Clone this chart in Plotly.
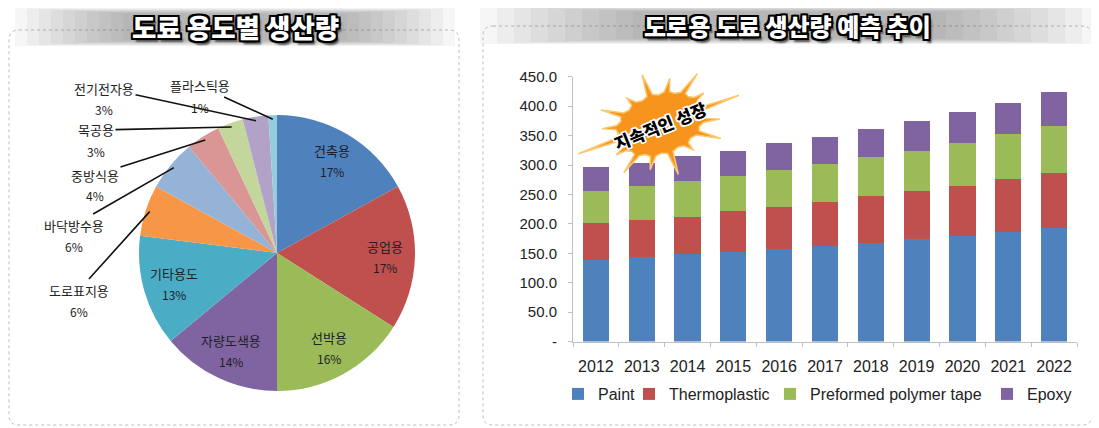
"""
Paint production: share by use (pie) and road-paint forecast (stacked bars)
"""
import numpy as np
import plotly.graph_objects as go

W, H = 1099, 428
PAGE_PAD = 8  # default body margin of the html page
KR = "Noto Sans CJK KR"
EN = "Liberation Sans"

# pie: production share by use (%)
uses = ['건축용', '공업용', '선박용', '자량도색용', '기타용도', '도로표지용',
        '바닥방수용', '중방식용', '목공용', '전기전자용', '플라스틱용']
shares = [17, 17, 16, 14, 13, 6, 6, 4, 3, 3, 1]
pie_colors = ['#4F81BD', '#C0504D', '#9BBB59', '#8064A2', '#4BACC6', '#F79646',
              '#95B3D7', '#D99694', '#C3D69B', '#B3A2C7', '#93CDDD']

# bars: road paint production forecast
years = ['2012', '2013', '2014', '2015', '2016', '2017',
         '2018', '2019', '2020', '2021', '2022']
paint = [139, 143, 149, 153, 158, 162, 168, 174, 179.5, 186, 193]
thermoplastic = [63, 64, 63, 69, 71, 76, 79.5, 82, 85, 90, 93]
preformed = [54, 58, 61.6, 60, 63, 64, 65.5, 68.6, 73.5, 76, 80.6]
epoxy = [40, 39, 42, 42.6, 46, 46, 49, 51, 53, 54, 58]
series_names = ['Paint', 'Thermoplastic', 'Preformed polymer tape', 'Epoxy']
bar_colors = ['#4F81BD', '#C0504D', '#9BBB59', '#8064A2']
y_ticks = [0, 50, 100, 150, 200, 250, 300, 350, 400, 450]


# screen pixel -> paper coordinates
def px(x):
    return (x - PAGE_PAD) / W


def py(y):
    return 1 - (y - PAGE_PAD) / H


def rounded_path(x0, y0, x1, y1, r):
    pts = [('M', x0 + r, y0), ('L', x1 - r, y0), ('Q', x1, y0, x1, y0 + r),
           ('L', x1, y1 - r), ('Q', x1, y1, x1 - r, y1), ('L', x0 + r, y1),
           ('Q', x0, y1, x0, y1 - r), ('L', x0, y0 + r), ('Q', x0, y0, x0 + r, y0)]
    out = []
    for p in pts:
        cmd, coords = p[0], p[1:]
        pairs = [f"{px(coords[i]):.5f},{py(coords[i + 1]):.5f}" for i in range(0, len(coords), 2)]
        out.append(cmd + ' '.join(pairs))
    return ' '.join(out) + ' Z'


def note(text, x, y, **kw):
    d = dict(text=text, x=px(x), y=py(y), xref='paper', yref='paper',
             xanchor='center', yanchor='middle', showarrow=False)
    d.update(kw)
    return d


fig = go.Figure()

# pie
pie_box = (139, 115, 415, 391)
fig.add_trace(go.Pie(
    labels=uses, values=shares, sort=False, direction='clockwise', rotation=0,
    marker=dict(colors=pie_colors, line=dict(width=0)),
    domain=dict(x=[px(pie_box[0]), px(pie_box[2])], y=[py(pie_box[3]), py(pie_box[1])]),
    textposition='none',
    showlegend=False,
))

# stacked bars
legends = ['legend', 'legend2', 'legend3', 'legend4']
for name, vals, color, leg in zip(series_names, [paint, thermoplastic, preformed, epoxy],
                                  bar_colors, legends):
    fig.add_trace(go.Bar(x=years, y=vals, name=name, marker_color=color,
                         marker_line_width=0, legend=leg))

shapes = []
annotations = []

# panels
for box in [(9, 30, 459, 425), (483, 26, 1092, 425)]:
    shapes.append(dict(type='path', xref='paper', yref='paper', path=rounded_path(*box, 10),
                       line=dict(color='#BDBDBD', width=1, dash='dot'), layer='below'))

# title banners (stacked translucent bands -> soft gradient)
for (bx0, bx1, by0, by1, step) in [(15, 455, 8, 46, 24), (480, 1099, 6, 44, 34)]:
    for k in range(10):
        shapes.append(dict(type='rect', xref='paper', yref='paper',
                           x0=px(bx0 + k * step / 2), x1=px(bx1 - k * step / 2),
                           y0=py(by1 - k * 0.6), y1=py(by0 + k * 0.6),
                           fillcolor='rgba(110,110,110,0.06)', line=dict(width=0), layer='below'))

outline = ("2px 2px 0 #000, -2px -2px 0 #000, 2px -2px 0 #000, -2px 2px 0 #000, "
           "0 2px 0 #000, 2px 0 0 #000, 0 -2px 0 #000, -2px 0 0 #000, 3px 4px 2px #555")
for text, tx, ty, fs in [('도료 용도별 생산량', 235, 27, 26.5), ('도로용 도료 생산량 예측 추이', 787, 25, 24)]:
    annotations.append(note(text, tx, ty,
                            font=dict(family=KR, size=fs, weight=900, color='white', shadow=outline)))

# pie labels
cx = (pie_box[0] + pie_box[2]) / 2
cy = (pie_box[1] + pie_box[3]) / 2
R = (pie_box[2] - pie_box[0]) / 2
cum = np.cumsum(shares)
label_pos = {'도로표지용': (79, 290), '바닥방수용': (74, 225), '중방식용': (95, 175),
             '목공용': (96, 130), '전기전자용': (104, 88), '플라스틱용': (200, 86)}
for i in range(len(uses)):
    mid = (cum[i] - shares[i] / 2) / cum[-1] * 2 * np.pi
    if i < 5:
        # inside labels along the slice bisector
        lx = cx + R * 0.78 * np.sin(mid)
        ly = cy - R * 0.78 * np.cos(mid)
        annotations.append(note(uses[i], lx, ly - 10, font=dict(family=KR, size=13, color='#1E1E2A')))
        annotations.append(note(f'{shares[i]}%', lx, ly + 11, font=dict(family=KR, size=12, color='#1E1E2A')))
    else:
        # outside labels with leader lines
        tipx = cx + R * 0.97 * np.sin(mid)
        tipy = cy - R * 0.97 * np.cos(mid)
        lx, ly = label_pos[uses[i]]
        annotations.append(note(uses[i], tipx, tipy, ax=lx - tipx, ay=ly - tipy, showarrow=True,
                                arrowhead=0, arrowwidth=1.6, arrowcolor='#111', standoff=0,
                                font=dict(family=KR, size=13, color='#222')))
        annotations.append(note(f'{shares[i]}%', lx, ly + 21, font=dict(family=KR, size=12, color='#222')))

# starburst callout: thin spikes on a lumpy body
scx, scy = 660, 124
spike = [1.5, 1.12, 1.32, 1.04, 1.45, 1.16, 1.28, 1.0, 1.55, 1.08, 1.28, 1.04, 1.42, 1.16, 1.32, 1.0]
n_spk = len(spike)
rot = np.deg2rad(20)
pts = []
for j in range(n_spk):
    a = 2 * np.pi * j / n_spk
    dstep = 2 * np.pi / n_spk
    for da, rr in [(-0.16, 0.82), (0.0, spike[j]), (0.16, 0.82), (0.5, 0.77)]:
        ang = a + da * dstep
        ex, ey = 56 * rr * np.cos(ang), 37 * rr * np.sin(ang)
        xr = ex * np.cos(rot) + ey * np.sin(rot)
        yr = -ex * np.sin(rot) + ey * np.cos(rot)
        pts.append((px(scx + xr), py(scy + yr)))
star_path = 'M' + ' L'.join(f'{a:.5f},{b:.5f}' for a, b in pts) + ' Z'
shapes.append(dict(type='path', xref='paper', yref='paper', path=star_path,
                   fillcolor='#F7941D', line=dict(color='#FBC86E', width=1.5), layer='above'))
white_outline = ("1.5px 1.5px 0 #fff, -1.5px -1.5px 0 #fff, 1.5px -1.5px 0 #fff, "
                 "-1.5px 1.5px 0 #fff, 0 1.5px 0 #fff, 1.5px 0 0 #fff, 0 -1.5px 0 #fff, -1.5px 0 0 #fff")
annotations.append(note('지속적인 성장', 660, 125, textangle=-22,
                        font=dict(family=KR, size=17, weight=900, color='#000', shadow=white_outline)))

legend_text_x = [598, 669, 810, 1027]
legend_cfg = {}
for leg, tx in zip(legends, legend_text_x):
    legend_cfg[leg] = dict(orientation='h', x=px(tx - 40), y=py(394), xanchor='left',
                           yanchor='middle', bgcolor='rgba(0,0,0,0)',
                           font=dict(family=EN, size=16, color='#222'))

fig.update_layout(
    width=W, height=H,
    margin=dict(l=0, r=0, t=0, b=0, autoexpand=False),
    paper_bgcolor='white',
    plot_bgcolor='rgba(0,0,0,0)',
    barmode='stack',
    bargap=0.43,
    xaxis=dict(domain=[px(573), px(1077)], type='category', showline=True,
               linecolor='#BFBFBF', ticks='outside', tickson='boundaries', ticklen=4,
               tickcolor='#BFBFBF', showgrid=False, ticklabelstandoff=10,
               tickfont=dict(family=EN, size=16, color='#222')),
    yaxis=dict(domain=[py(341.5), py(76.8)], range=[0, 450], tickvals=y_ticks,
               ticktext=['-' if v == 0 else f'{v:.1f}' for v in y_ticks],
               showline=True, linecolor='#BFBFBF', ticks='outside', ticklen=4,
               tickcolor='#BFBFBF', showgrid=False, zeroline=False, ticklabelstandoff=8,
               tickfont=dict(family=EN, size=15, color='#222')),
    shapes=shapes,
    annotations=annotations,
    **legend_cfg,
)

fig.write_html("out.html")
